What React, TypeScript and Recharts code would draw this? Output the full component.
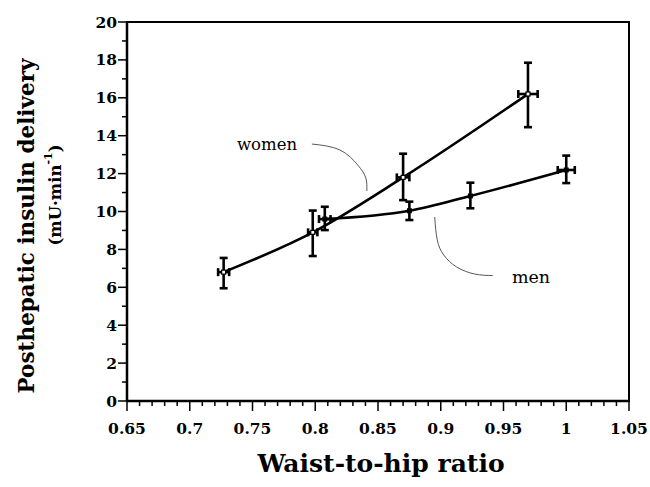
import {
  ComposedChart,
  Line,
  Scatter,
  ErrorBar,
  XAxis,
  YAxis,
  ReferenceArea,
  Customized,
} from 'recharts';

// women
const womenX = [0.727, 0.798, 0.87, 0.9695];
const womenY = [6.8, 8.9, 11.8, 16.2];
const womenLow = [5.95, 7.65, 10.6, 14.45];
const womenHigh = [7.55, 10.05, 13.05, 17.85];
const womenXErr = [0.0044, 0.0037, 0.005, 0.0077];

// men
const menX = [0.8076, 0.875, 0.9236, 1.0];
const menY = [9.6, 10.04, 10.82, 12.19];
const menLow = [9.02, 9.55, 10.17, 11.5];
const menHigh = [10.25, 10.52, 11.52, 12.95];
const menXErr = [0.0046, 0, 0, 0.0068];

// leader curves for the "women" / "men" notes
const womenLeaderX = [0.7973, 0.8196, 0.8339, 0.8403, 0.8411];
const womenLeaderY = [13.56, 13.25, 12.45, 11.77, 11.08];
const menLeaderX = [0.8952, 0.8972, 0.9024, 0.9127, 0.9271, 0.9414];
const menLeaderY = [9.71, 8.5, 7.7, 7.07, 6.7, 6.62];

const xMajor = [0.65, 0.7, 0.75, 0.8, 0.85, 0.9, 0.95, 1, 1.05];
const yMajor = [0, 2, 4, 6, 8, 10, 12, 14, 16, 18, 20];

const xTicks: number[] = [];
for (let i = 0; i <= 40; i++) xTicks.push(+(0.65 + i * 0.01).toFixed(2));
const yTicks: number[] = [];
for (let i = 0; i <= 20; i++) yTicks.push(i);

const FONT = '"DejaVu Serif", serif';

const womenRows = womenX.map((x, i) => ({
  x,
  y: womenY[i],
  yErr: [womenY[i] - womenLow[i], womenHigh[i] - womenY[i]],
  xErr: womenXErr[i],
}));
const menRows = menX.map((x, i) => ({
  x,
  y: menY[i],
  yErr: [menY[i] - menLow[i], menHigh[i] - menY[i]],
  xErr: menXErr[i],
}));
const womenLeader = womenLeaderX.map((x, i) => ({ x, y: womenLeaderY[i] }));
const menLeader = menLeaderX.map((x, i) => ({ x, y: menLeaderY[i] }));

const isMajor = (v: number, list: number[]) => list.some((m) => Math.abs(m - v) < 1e-6);

const XTick = (props: any) => {
  const { x, y, payload } = props;
  const major = isMajor(payload.value, xMajor);
  return (
    <g>
      <line x1={x} x2={x} y1={y} y2={y + (major ? 10 : 5)} stroke="#000" strokeWidth={1.5} />
      {major && (
        <text x={x} y={y + 33} textAnchor="middle" fontFamily={FONT} fontWeight="bold" fontSize={15.5} fill="#000">
          {String(payload.value)}
        </text>
      )}
    </g>
  );
};

const YTick = (props: any) => {
  const { x, y, payload } = props;
  const major = isMajor(payload.value, yMajor);
  return (
    <g>
      <line x1={x} x2={x - (major ? 9 : 5)} y1={y} y2={y} stroke="#000" strokeWidth={1.5} />
      {major && (
        <text x={x - 10} y={y + 5.5} textAnchor="end" fontFamily={FONT} fontWeight="bold" fontSize={15.5} fill="#000">
          {String(payload.value)}
        </text>
      )}
    </g>
  );
};

const Titles = () => (
  <g fontFamily={FONT} fill="#000">
    <text
      x={26}
      y={226}
      transform="rotate(-90, 26, 226)"
      textAnchor="middle"
      dominantBaseline="central"
      fontWeight="bold"
      fontSize={21.5}
    >
      Posthepatic insulin delivery
    </text>
    <text
      x={55}
      y={195}
      transform="rotate(-90, 55, 195)"
      textAnchor="middle"
      dominantBaseline="central"
      fontWeight="bold"
      fontSize={16.5}
    >
      (mU·min<tspan dy={-7} fontSize={11}>-1</tspan>
      <tspan dy={7}>)</tspan>
    </text>
    <text x={381} y={463} textAnchor="middle" dominantBaseline="central" fontWeight="bold" fontSize={25}>
      Waist-to-hip ratio
    </text>
    <text x={267} y={144} textAnchor="middle" dominantBaseline="central" fontSize={16.5}>
      women
    </text>
    <text x={531} y={277} textAnchor="middle" dominantBaseline="central" fontSize={17.5}>
      men
    </text>
  </g>
);

const OpenSquare = (props: any) => (
  <rect x={props.cx - 2} y={props.cy - 2} width={4} height={4} fill="#fff" stroke="#000" strokeWidth={1.2} />
);
const FilledSquare = (props: any) => (
  <rect x={props.cx - 2.5} y={props.cy - 2.5} width={5} height={5} fill="#000" />
);

export default function App() {
  return (
    <div style={{ position: 'absolute', left: 0, top: 0, width: 650, height: 487, background: '#fff' }}>
      <ComposedChart width={650} height={487} margin={{ top: 22, right: 21, bottom: 0, left: 0 }}>
        <XAxis
          dataKey="x"
          type="number"
          domain={[0.65, 1.05]}
          ticks={xTicks}
          interval={0}
          allowDataOverflow
          height={86}
          tickSize={0}
          tickMargin={0}
          tickLine={false}
          axisLine={{ stroke: '#000', strokeWidth: 2.5 }}
          tick={<XTick />}
        />
        <YAxis
          dataKey="y"
          type="number"
          domain={[0, 20]}
          ticks={yTicks}
          interval={0}
          allowDataOverflow
          width={127}
          tickSize={0}
          tickMargin={0}
          tickLine={false}
          axisLine={{ stroke: '#000', strokeWidth: 2.5 }}
          tick={<YTick />}
        />
        <ReferenceArea x1={0.65} x2={1.05} y1={0} y2={20} fill="none" stroke="#000" strokeWidth={2} ifOverflow="visible" />
        <Line
          data={womenLeader}
          dataKey="y"
          type="natural"
          stroke="#444"
          strokeWidth={0.9}
          dot={false}
          isAnimationActive={false}
        />
        <Line
          data={menLeader}
          dataKey="y"
          type="natural"
          stroke="#444"
          strokeWidth={0.9}
          dot={false}
          isAnimationActive={false}
        />
        <Line
          data={womenRows}
          dataKey="y"
          type="monotone"
          stroke="#000"
          strokeWidth={2.6}
          dot={false}
          isAnimationActive={false}
        />
        <Line
          data={menRows}
          dataKey="y"
          type="monotone"
          stroke="#000"
          strokeWidth={2.6}
          dot={false}
          isAnimationActive={false}
        />
        <Scatter data={womenRows} dataKey="y" shape={<OpenSquare />} isAnimationActive={false}>
          <ErrorBar dataKey="yErr" direction="y" width={4} stroke="#000" strokeWidth={2.6} isAnimationActive={false} />
          <ErrorBar dataKey="xErr" direction="x" width={4} stroke="#000" strokeWidth={2.6} isAnimationActive={false} />
        </Scatter>
        <Scatter data={menRows} dataKey="y" shape={<FilledSquare />} isAnimationActive={false}>
          <ErrorBar dataKey="yErr" direction="y" width={4} stroke="#000" strokeWidth={2.6} isAnimationActive={false} />
          <ErrorBar dataKey="xErr" direction="x" width={4} stroke="#000" strokeWidth={2.6} isAnimationActive={false} />
        </Scatter>
        <Customized component={<Titles />} />
      </ComposedChart>
    </div>
  );
}
